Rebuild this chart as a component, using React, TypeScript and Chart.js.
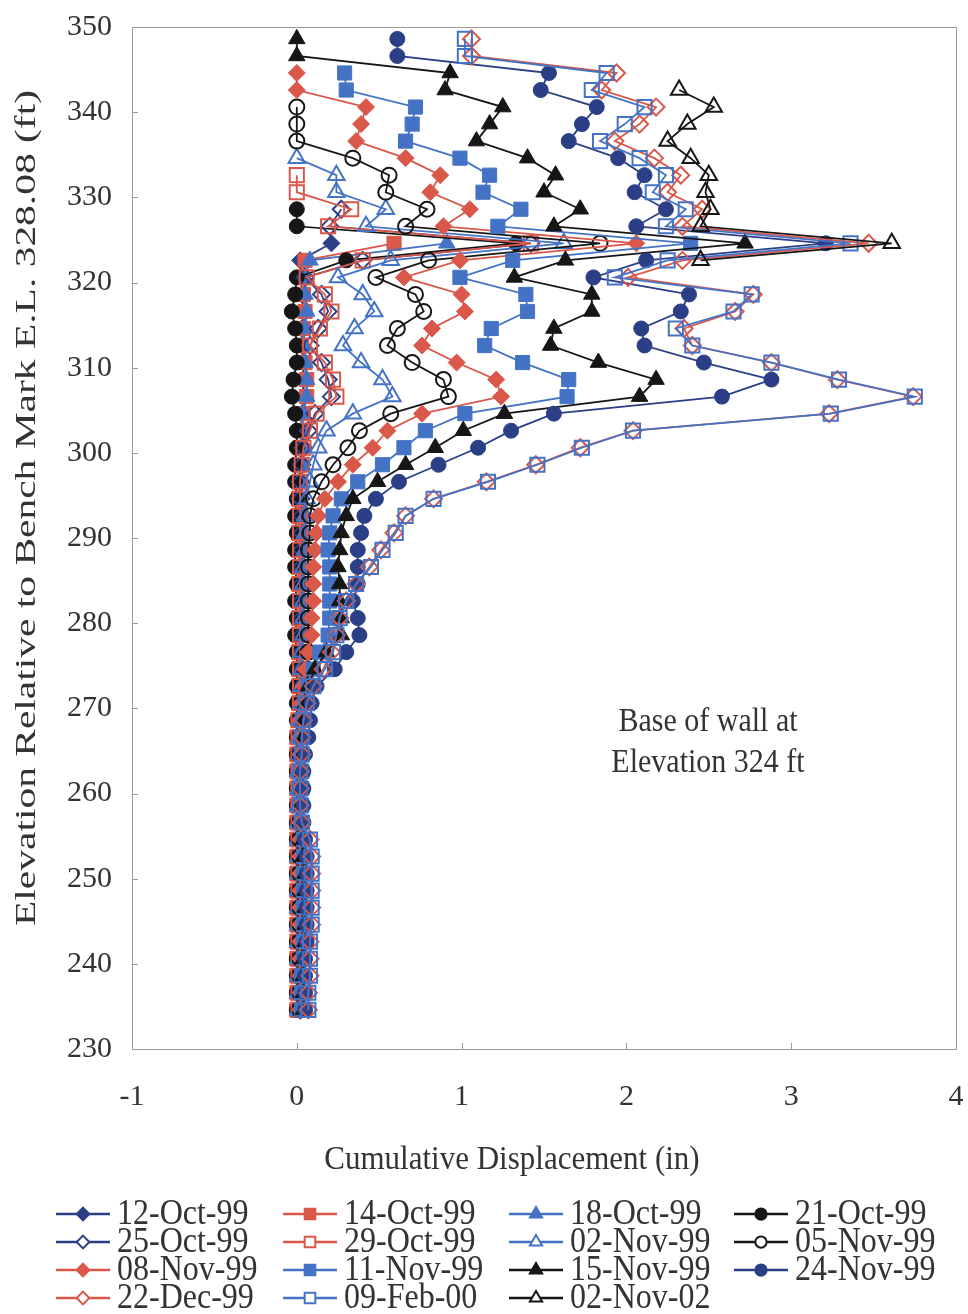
import React, { useEffect, useRef } from 'react';
import { Chart, registerables } from 'chart.js';

Chart.register(...registerables);

// Elevation of each reading (ft), top of casing downwards in 2 ft steps
const elevations = [
  348.6, 346.6, 344.6, 342.6, 340.6, 338.6, 336.6, 334.6, 332.6, 330.6,
  328.6, 326.6, 324.6, 322.6, 320.6, 318.6, 316.6, 314.6, 312.6, 310.6,
  308.6, 306.6, 304.6, 302.6, 300.6, 298.6, 296.6, 294.6, 292.6, 290.6,
  288.6, 286.6, 284.6, 282.6, 280.6, 278.6, 276.6, 274.6, 272.6, 270.6,
  268.6, 266.6, 264.6, 262.6, 260.6, 258.6, 256.6, 254.6, 252.6, 250.6,
  248.6, 246.6, 244.6, 242.6, 240.6, 238.6, 236.6, 234.6,
];

const seriesNames = [
  '12-Oct-99', '14-Oct-99', '18-Oct-99', '21-Oct-99',
  '25-Oct-99', '29-Oct-99', '02-Nov-99', '05-Nov-99',
  '08-Nov-99', '11-Nov-99', '15-Nov-99', '24-Nov-99',
  '22-Dec-99', '09-Feb-00', '02-Nov-02',
];

// index into `elevations` of the first reading of each series
const startIndex = [12, 12, 12, 10, 10, 8, 7, 4, 2, 2, 0, 0, 0, 0, 3];

// cumulative displacement (in), from the first reading downwards
const d12Oct99 = [
  0.21, 0.02, 0.03, 0.03, 0.04, 0.03, 0.03, 0.04,
  0.04, 0.04, 0.03, 0.03, 0.03, 0.03, 0.03, 0.03, 0.03, 0.03,
  0.03, 0.03, 0.03, 0.03, 0.03, 0.03, 0.03, 0.03, 0.03, 0.03,
  0.03, 0.03, 0.02, 0.02, 0.02, 0.02, 0.02, 0.03, 0.03, 0.03,
  0.03, 0.03, 0.03, 0.03, 0.03, 0.03, 0.03, 0.03,
];
const d14Oct99 = [
  0.59, 0.05, 0.03, 0.04, 0.05, 0.04, 0.03, 0.05,
  0.06, 0.06, 0.04, 0.03, 0.02, 0.02, 0.02, 0.01, 0.01, 0.01,
  0.01, 0.01, 0.01, 0.01, 0.01, 0.01, 0.01, 0.01, 0.01, 0.01,
  0.01, 0.00, 0.00, 0.00, 0.00, 0.00, 0.00, 0.00, 0.00, 0.00,
  0.00, 0.00, 0.00, 0.00, 0.00, 0.00, 0.00, 0.00,
];
const d18Oct99 = [
  0.91, 0.08, 0.05, 0.05, 0.06, 0.05, 0.04, 0.05,
  0.06, 0.06, 0.04, 0.03, 0.03, 0.03, 0.02, 0.02, 0.02, 0.02,
  0.02, 0.02, 0.02, 0.02, 0.02, 0.02, 0.02, 0.02, 0.02, 0.02,
  0.02, 0.01, 0.01, 0.01, 0.01, 0.01, 0.01, 0.01, 0.01, 0.01,
  0.01, 0.01, 0.01, 0.01, 0.01, 0.01, 0.01, 0.01,
];
const d21Oct99 = [
  0.00, 0.00, 1.33, 0.30, 0.00, -0.01, -0.03, -0.01, 0.00, 0.00,
  -0.02, -0.03, -0.01, 0.00, 0.00, -0.01, -0.01, 0.00, -0.01, 0.00,
  -0.01, -0.01, 0.00, -0.01, 0.00, -0.01, 0.00, 0.00, 0.00, 0.00,
  0.00, 0.00, 0.00, 0.00, 0.00, 0.00, 0.00, 0.00, 0.00, 0.00,
  0.00, 0.00, 0.00, 0.00, 0.00, 0.00, 0.00, 0.00,
];
const d25Oct99 = [
  0.27, 0.20, 1.42, 0.40, 0.05, 0.15, 0.19, 0.13, 0.08, 0.15,
  0.19, 0.21, 0.11, 0.07, 0.04, 0.03, 0.02, 0.02, 0.03, 0.03,
  0.03, 0.03, 0.03, 0.03, 0.03, 0.03, 0.03, 0.03, 0.03, 0.03,
  0.02, 0.02, 0.02, 0.02, 0.02, 0.02, 0.02, 0.02, 0.02, 0.02,
  0.02, 0.02, 0.02, 0.02, 0.02, 0.02, 0.02, 0.02,
];
const d29Oct99 = [
  0.00, 0.00,
  0.33, 0.19, 1.42, 0.40, 0.06, 0.17, 0.21, 0.14, 0.08, 0.17,
  0.22, 0.24, 0.12, 0.08, 0.04, 0.03, 0.02, 0.02, 0.02, 0.02,
  0.02, 0.02, 0.02, 0.02, 0.02, 0.02, 0.02, 0.02, 0.02, 0.02,
  0.01, 0.01, 0.01, 0.01, 0.01, 0.01, 0.01, 0.01, 0.01, 0.01,
  0.01, 0.01, 0.01, 0.01, 0.01, 0.01, 0.01, 0.01,
];
const d02Nov99 = [
  0.00, 0.24, 0.24,
  0.54, 0.42, 1.62, 0.57, 0.25, 0.40, 0.47, 0.35, 0.28, 0.39,
  0.52, 0.58, 0.34, 0.18, 0.13, 0.10, 0.08, 0.06, 0.05, 0.05,
  0.05, 0.04, 0.04, 0.04, 0.04, 0.04, 0.03, 0.03, 0.03, 0.03,
  0.02, 0.02, 0.02, 0.01, 0.01, 0.01, 0.01, 0.01, 0.01, 0.01,
  0.01, 0.01, 0.01, 0.01, 0.01, 0.01, 0.01, 0.01,
];
const d05Nov99 = [
  0.00, 0.00, 0.00, 0.34, 0.56, 0.54,
  0.79, 0.66, 1.84, 0.80, 0.48, 0.72, 0.77, 0.61, 0.55, 0.70,
  0.89, 0.92, 0.57, 0.38, 0.31, 0.22, 0.15, 0.10, 0.08, 0.08,
  0.07, 0.07, 0.07, 0.07, 0.07, 0.07, 0.07, 0.06, 0.06, 0.05,
  0.04, 0.03, 0.02, 0.02, 0.02, 0.02, 0.02, 0.02, 0.02, 0.02,
  0.02, 0.02, 0.02, 0.02, 0.02, 0.02, 0.02, 0.02,
];
const d08Nov99 = [
  0.00, 0.00, 0.42, 0.39, 0.36, 0.66, 0.87, 0.81,
  1.05, 0.89, 2.06, 0.99, 0.65, 1.00, 1.02, 0.82, 0.76, 0.97,
  1.21, 1.24, 0.76, 0.55, 0.46, 0.34, 0.25, 0.17, 0.13, 0.12,
  0.11, 0.10, 0.10, 0.10, 0.09, 0.09, 0.07, 0.05, 0.04, 0.03,
  0.02, 0.02, 0.02, 0.02, 0.02, 0.02, 0.02, 0.02, 0.02, 0.02,
  0.02, 0.02, 0.02, 0.02, 0.02, 0.02, 0.02, 0.02,
];
const d11Nov99 = [
  0.29, 0.30, 0.72, 0.70, 0.66, 0.99, 1.17, 1.13,
  1.36, 1.22, 2.39, 1.31, 0.99, 1.39, 1.40, 1.18, 1.14, 1.37,
  1.65, 1.64, 1.02, 0.78, 0.65, 0.52, 0.37, 0.27, 0.22, 0.20,
  0.19, 0.20, 0.20, 0.20, 0.20, 0.19, 0.14, 0.10, 0.07, 0.05,
  0.04, 0.03, 0.03, 0.03, 0.03, 0.03, 0.03, 0.04, 0.04, 0.04,
  0.04, 0.04, 0.04, 0.04, 0.04, 0.03, 0.03, 0.03,
];
const d15Nov99 = [
  0.00, 0.00, 0.93, 0.90, 1.25, 1.17, 1.09, 1.40, 1.57, 1.50,
  1.72, 1.56, 2.72, 1.63, 1.32, 1.79, 1.79, 1.56, 1.54, 1.83,
  2.18, 2.08, 1.26, 1.01, 0.84, 0.66, 0.49, 0.34, 0.30, 0.27,
  0.26, 0.25, 0.26, 0.26, 0.27, 0.27, 0.18, 0.11, 0.07, 0.05,
  0.04, 0.04, 0.03, 0.03, 0.03, 0.02, 0.03, 0.04, 0.04, 0.05,
  0.05, 0.05, 0.05, 0.05, 0.04, 0.04, 0.04, 0.04,
];
const d24Nov99 = [
  0.61, 0.61, 1.53, 1.48, 1.82, 1.73, 1.65, 1.95, 2.11, 2.05,
  2.24, 2.06, 3.21, 2.12, 1.80, 2.38, 2.33, 2.09, 2.11, 2.47,
  2.88, 2.58, 1.56, 1.30, 1.10, 0.86, 0.62, 0.48, 0.41, 0.39,
  0.37, 0.37, 0.37, 0.34, 0.37, 0.38, 0.30, 0.23, 0.12, 0.09,
  0.08, 0.07, 0.05, 0.04, 0.04, 0.04, 0.04, 0.05, 0.06, 0.06,
  0.06, 0.06, 0.06, 0.06, 0.05, 0.05, 0.05, 0.05,
];
const d22Dec99 = [
  1.06, 1.06, 1.94, 1.85, 2.18, 2.08, 1.93, 2.17, 2.33, 2.25,
  2.46, 2.34, 3.47, 2.34, 2.01, 2.77, 2.66, 2.35, 2.40, 2.88,
  3.28, 3.74, 3.23, 2.04, 1.72, 1.45, 1.15, 0.83, 0.66, 0.59,
  0.51, 0.44, 0.36, 0.30, 0.26, 0.24, 0.21, 0.16, 0.10, 0.06,
  0.04, 0.03, 0.03, 0.02, 0.02, 0.02, 0.03, 0.08, 0.09, 0.09,
  0.09, 0.09, 0.09, 0.08, 0.08, 0.08, 0.07, 0.07,
];
const d09Feb00 = [
  1.02, 1.02, 1.88, 1.79, 2.11, 1.99, 1.84, 2.08, 2.24, 2.16,
  2.36, 2.24, 3.36, 2.25, 1.93, 2.76, 2.65, 2.30, 2.40, 2.88,
  3.29, 3.75, 3.24, 2.04, 1.73, 1.46, 1.16, 0.83, 0.66, 0.60,
  0.52, 0.45, 0.36, 0.30, 0.26, 0.24, 0.22, 0.17, 0.10, 0.06,
  0.04, 0.03, 0.03, 0.02, 0.02, 0.02, 0.03, 0.08, 0.09, 0.09,
  0.09, 0.09, 0.09, 0.08, 0.08, 0.08, 0.07, 0.07,
];
const d02Nov02 = [
  2.32, 2.53, 2.37, 2.25, 2.39, 2.50, 2.48, 2.51, 2.45, 3.61, 2.45,
];

const seriesValues = [
  d12Oct99, d14Oct99, d18Oct99, d21Oct99,
  d25Oct99, d29Oct99, d02Nov99, d05Nov99,
  d08Nov99, d11Nov99, d15Nov99, d24Nov99,
  d22Dec99, d09Feb00, d02Nov02,
];

const xTickValues = [-1, 0, 1, 2, 3, 4];
const yTickValues = [230, 240, 250, 260, 270, 280, 290, 300, 310, 320, 330, 340, 350];

const NAVY = '#2b3f86';
const RED = '#d9584a';
const BLUE = '#4473c6';
const BLACK = '#161616';

type Marker = { color: string; style: string; filled: boolean };
const markers: Marker[] = [
  { color: NAVY, style: 'rectRot', filled: true },
  { color: RED, style: 'rect', filled: true },
  { color: BLUE, style: 'triangle', filled: true },
  { color: BLACK, style: 'circle', filled: true },
  { color: NAVY, style: 'rectRot', filled: false },
  { color: RED, style: 'rect', filled: false },
  { color: BLUE, style: 'triangle', filled: false },
  { color: BLACK, style: 'circle', filled: false },
  { color: RED, style: 'rectRot', filled: true },
  { color: BLUE, style: 'rect', filled: true },
  { color: BLACK, style: 'triangle', filled: true },
  { color: NAVY, style: 'circle', filled: true },
  { color: RED, style: 'rectRot', filled: false },
  { color: BLUE, style: 'rect', filled: false },
  { color: BLACK, style: 'triangle', filled: false },
];

const radiusFor: Record<string, number> = { circle: 7.5, rect: 10, rectRot: 8.5, triangle: 9.5 };

const SERIF = '"Liberation Serif", "Times New Roman", serif';
const TEXT = '#333333';

function drawMarker(ctx: CanvasRenderingContext2D, style: string, x: number, y: number, r: number, fill: string | null, stroke: string, lw: number) {
  ctx.beginPath();
  if (style === 'circle') {
    ctx.arc(x, y, r, 0, Math.PI * 2);
  } else if (style === 'rect') {
    const s = r * Math.SQRT1_2;
    ctx.rect(x - s, y - s, 2 * s, 2 * s);
  } else if (style === 'rectRot') {
    ctx.moveTo(x, y - r);
    ctx.lineTo(x + r, y);
    ctx.lineTo(x, y + r);
    ctx.lineTo(x - r, y);
    ctx.closePath();
  } else {
    ctx.moveTo(x, y - r);
    ctx.lineTo(x + r * Math.sin((2 * Math.PI) / 3), y - r * Math.cos((2 * Math.PI) / 3));
    ctx.lineTo(x + r * Math.sin((4 * Math.PI) / 3), y - r * Math.cos((4 * Math.PI) / 3));
    ctx.closePath();
  }
  if (fill) {
    ctx.fillStyle = fill;
    ctx.fill();
  }
  ctx.lineWidth = lw;
  ctx.strokeStyle = stroke;
  ctx.stroke();
}

function stretchedText(ctx: CanvasRenderingContext2D, text: string, x: number, y: number, font: string, sy: number) {
  ctx.save();
  ctx.translate(x, y);
  ctx.scale(1, sy);
  ctx.font = font;
  ctx.fillText(text, 0, 0);
  ctx.restore();
}

const decorPlugin = {
  id: 'decor',
  beforeDatasetsDraw(chart: any) {
    const { ctx, chartArea: a, scales } = chart;
    ctx.save();
    ctx.strokeStyle = '#9c9c9c';
    ctx.lineWidth = 1;
    ctx.strokeRect(a.left + 0.5, a.top + 0.5, a.right - a.left, a.bottom - a.top);
    ctx.beginPath();
    xTickValues.forEach((v) => {
      const px = Math.round(scales.x.getPixelForValue(v)) + 0.5;
      ctx.moveTo(px, a.bottom);
      ctx.lineTo(px, a.bottom - 6);
    });
    yTickValues.forEach((v) => {
      const py = Math.round(scales.y.getPixelForValue(v)) + 0.5;
      ctx.moveTo(a.left, py);
      ctx.lineTo(a.left + 6, py);
    });
    ctx.stroke();
    ctx.restore();
  },
  afterDraw(chart: any) {
    const { ctx } = chart;
    ctx.save();
    ctx.fillStyle = TEXT;
    ctx.textAlign = 'center';
    ctx.textBaseline = 'middle';

    // y axis title
    ctx.save();
    ctx.translate(27, 508);
    ctx.rotate(-Math.PI / 2);
    ctx.font = `30px ${SERIF}`;
    const yTitle = 'Elevation Relative to Bench Mark E.L. 328.08 (ft)';
    const w = ctx.measureText(yTitle).width;
    ctx.scale(836 / w, 1);
    ctx.fillText(yTitle, 0, 0);
    ctx.restore();

    // x axis title
    stretchedText(ctx, 'Cumulative Displacement (in)', 512, 1160, `31px ${SERIF}`, 1.12);

    // annotation
    stretchedText(ctx, 'Base of wall at', 708, 722, `30px ${SERIF}`, 1.12);
    stretchedText(ctx, 'Elevation 324 ft', 708, 763, `30px ${SERIF}`, 1.12);

    // legend (4 columns grid)
    const colX = [56, 283, 509, 734];
    const rowY = [1214, 1242, 1270, 1298];
    chart.data.datasets.forEach((ds: any, i: number) => {
      const cx = colX[i % 4];
      const cy = rowY[Math.floor(i / 4)];
      const m = markers[i];
      ctx.beginPath();
      ctx.strokeStyle = m.color;
      ctx.lineWidth = 2.5;
      ctx.moveTo(cx, cy);
      ctx.lineTo(cx + 54, cy);
      ctx.stroke();
      drawMarker(ctx, m.style, cx + 27, cy, radiusFor[m.style] * 0.75, m.filled ? m.color : '#ffffff', m.color, 2);
      ctx.fillStyle = TEXT;
      ctx.textAlign = 'left';
      stretchedText(ctx, ds.label, cx + 61, cy + 1, `32px ${SERIF}`, 1.12);
    });
    ctx.restore();
  },
};

export default function App() {
  const canvasRef = useRef<HTMLCanvasElement | null>(null);

  useEffect(() => {
    const canvas = canvasRef.current;
    if (!canvas) return;
    const datasets = seriesNames.map((name, i) => {
      const vals = seriesValues[i];
      const start = startIndex[i];
      const m = markers[i];
      return {
        label: name,
        data: vals.map((v, j) => ({ x: v, y: elevations[start + j] })),
        showLine: true,
        borderColor: m.color,
        backgroundColor: m.color,
        borderWidth: 1.8,
        pointStyle: m.style,
        pointRadius: radiusFor[m.style],
        pointBorderWidth: m.filled ? 1 : 2,
        pointBorderColor: m.color,
        pointBackgroundColor: m.filled ? m.color : 'rgba(255,255,255,0)',
        tension: 0,
        order: seriesNames.length - i,
      };
    });

    const tickFont = { family: SERIF, size: 30 };
    const chart = new Chart(canvas, {
      type: 'scatter',
      data: { datasets },
      options: {
        animation: false,
        responsive: false,
        devicePixelRatio: 1,
        layout: { padding: { left: 0, right: 10, top: 27, bottom: 0 } },
        plugins: {
          legend: { display: false },
          tooltip: { enabled: false },
        },
        scales: {
          x: {
            type: 'linear',
            min: -1,
            max: 4,
            afterBuildTicks: (s: any) => {
              s.ticks = xTickValues.map((v) => ({ value: v }));
            },
            ticks: { font: tickFont, color: TEXT, padding: 0, maxRotation: 0, autoSkip: false },
            grid: { display: false, drawTicks: true, tickLength: 30 },
            border: { display: false },
            afterFit: (s: any) => {
              s.height = 265;
            },
          },
          y: {
            type: 'linear',
            min: 230,
            max: 350,
            afterBuildTicks: (s: any) => {
              s.ticks = yTickValues.map((v) => ({ value: v }));
            },
            ticks: { font: tickFont, color: TEXT, padding: 0, autoSkip: false },
            grid: { display: false, drawTicks: true, tickLength: 20 },
            border: { display: false },
            afterFit: (s: any) => {
              s.width = 132;
            },
          },
        },
      } as any,
      plugins: [decorPlugin],
    });
    return () => chart.destroy();
  }, []);

  return (
    <div style={{ position: 'absolute', left: 0, top: 0, width: 968, height: 1314, background: '#ffffff' }}>
      <canvas ref={canvasRef} width={968} height={1314} style={{ display: 'block', width: 968, height: 1314 }} />
    </div>
  );
}
